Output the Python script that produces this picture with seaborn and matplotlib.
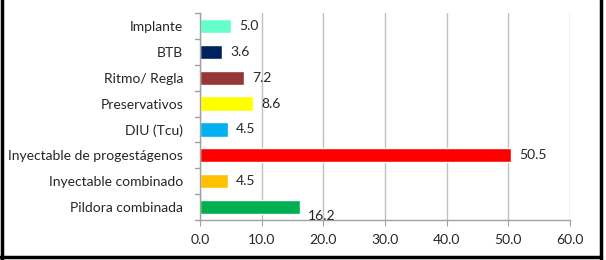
import matplotlib
matplotlib.use("Agg")
import matplotlib.pyplot as plt
import seaborn as sns
import pandas as pd
from matplotlib.lines import Line2D

# datos
metodos = ["Implante", "BTB", "Ritmo/ Regla", "Preservativos", "DIU (Tcu)",
           "Inyectable de progestágenos", "Inyectable combinado", "Pildora combinada"]
porcentajes = [5.0, 3.6, 7.2, 8.6, 4.5, 50.5, 4.5, 16.2]
colores = ["#66FFCC", "#002060", "#953735", "#FFFF00", "#00B0F0",
           "#FF0000", "#FFC000", "#00B050"]
ticks_x = [0, 10, 20, 30, 40, 50, 60]

sns.set_style("white")
plt.rcParams["font.family"] = ["Lato", "DejaVu Sans"]

df = pd.DataFrame({"metodo": metodos, "valor": porcentajes})

fig = plt.figure(figsize=(6.06, 2.6), dpi=100)
ax = fig.add_axes([200 / 606, 1 - 220 / 260, 370 / 606, 207 / 260])

sns.barplot(data=df, x="valor", y="metodo", hue="metodo", palette=colores,
            legend=False, width=0.55, saturation=1, ax=ax)

ax.set_xlim(0, 60)
ax.set_xticks(ticks_x)
ax.set_xticklabels([f"{t:.1f}" for t in ticks_x], fontsize=10)
ax.set_ylim(len(metodos) - 0.5, -0.5)
ax.tick_params(axis="y", labelsize=10, length=0, pad=12)
ax.tick_params(axis="x", length=4, color="#A0A0A0", direction="out", bottom=True, pad=6)
ax.set_xlabel("")
ax.set_ylabel("")

# cuadrícula vertical
ax.grid(axis="x", color="#C0C0C0", linewidth=1)
ax.set_axisbelow(True)
for s in ["top", "right"]:
    ax.spines[s].set_visible(False)
for s in ["left", "bottom"]:
    ax.spines[s].set_color("#A0A0A0")
    ax.spines[s].set_linewidth(1)

# marcas entre categorías en el eje y
for i in range(len(metodos) + 1):
    ax.plot([-0.8, 0], [i - 0.5, i - 0.5], color="#A0A0A0", lw=1,
            clip_on=False, transform=ax.transData)

# etiquetas de valor
for i, v in enumerate(porcentajes):
    dy = 0.35 if metodos[i] == "Pildora combinada" else 0
    ax.text(v + 1.3, i + dy, f"{v:.1f}", va="center", ha="left", fontsize=10)

# borde negro de la figura (sin borde superior)
for xs, ys in [([0.004, 0.004], [0, 1]), ([0.991, 0.991], [0, 1]), ([0, 0.991], [0.01, 0.01])]:
    fig.add_artist(Line2D(xs, ys, color="black", lw=2.5, transform=fig.transFigure))

fig.savefig("out.png", dpi=100)
